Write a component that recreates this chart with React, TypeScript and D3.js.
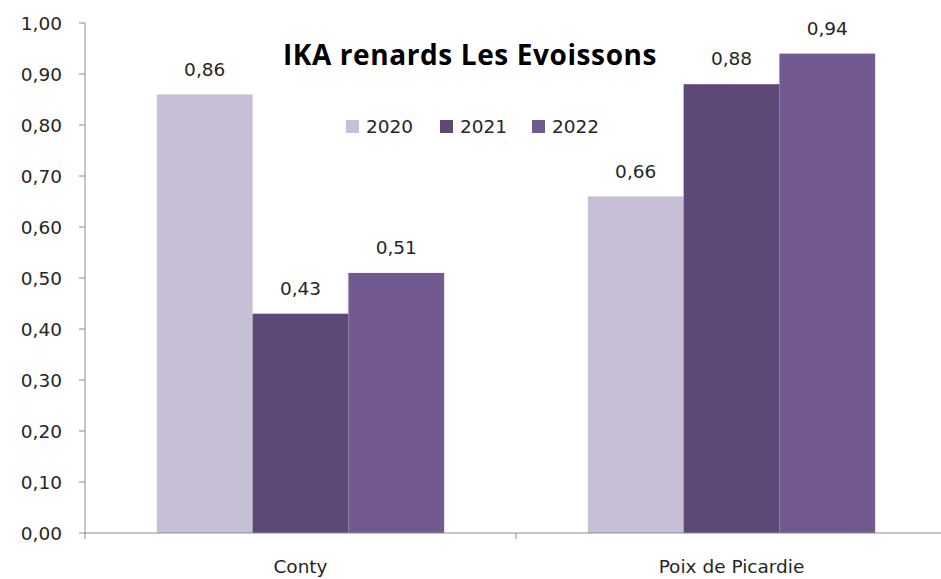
import React from "react";
import * as d3 from "d3";

const categories = ["Conty", "Poix de Picardie"];
const years = ["2020", "2021", "2022"];
const values2020 = [0.86, 0.66];
const values2021 = [0.43, 0.88];
const values2022 = [0.51, 0.94];
const yTicks = [0, 0.1, 0.2, 0.3, 0.4, 0.5, 0.6, 0.7, 0.8, 0.9, 1.0];
const colors = ["#C6BFD6", "#5E4878", "#72598F"];
const title = "IKA renards Les Evoissons";

const W = 941;
const H = 579;
const left = 85;
const right = 947;
const top = 23;
const bottom = 533;

export default function App() {
  const series = [values2020, values2021, values2022];
  const y = d3.scaleLinear().domain([0, 1]).range([bottom, top]);
  const x0 = d3.scaleBand<string>().domain(categories).range([left, right]).paddingInner(0).paddingOuter(0);
  const groupWidth = x0.bandwidth() * (3 / 4.5);
  const x1 = d3.scaleBand<string>().domain(years).range([0, groupWidth]).padding(0);
  const font = "'DejaVu Sans', sans-serif";
  const fs = 18.5;
  const fmt = (v: number) => v.toFixed(2).replace(".", ",");
  const legendX = [346, 440, 532];

  return (
    <svg width={W} height={H} style={{ position: "absolute", left: 0, top: 0, background: "#fff" }} fontFamily={font}>
      {/* y axis */}
      <line x1={left} x2={left} y1={top} y2={bottom} stroke="#8c8c8c" strokeWidth={1} />
      {yTicks.map((t) => (
        <g key={t}>
          <line x1={left - 6} x2={left} y1={y(t)} y2={y(t)} stroke="#8c8c8c" />
          <text x={62} y={y(t)} dy="0.36em" textAnchor="end" fontSize={fs} fill="#262626">
            {fmt(t)}
          </text>
        </g>
      ))}
      {/* bars */}
      {categories.map((c, ci) => {
        const gx = (x0(c) as number) + (x0.bandwidth() - groupWidth) / 2;
        return (
          <g key={c}>
            {years.map((yr, si) => {
              const v = series[si][ci];
              const bx = gx + (x1(yr) as number);
              return (
                <g key={yr}>
                  <rect x={bx} y={y(v)} width={x1.bandwidth()} height={bottom - y(v)} fill={colors[si]} />
                  <text x={bx + x1.bandwidth() / 2} y={y(v) - 25.5} dy="0.36em" textAnchor="middle" fontSize={fs} fill="#262626">
                    {fmt(v)}
                  </text>
                </g>
              );
            })}
          </g>
        );
      })}
      {/* x axis */}
      <line x1={left} x2={W} y1={bottom} y2={bottom} stroke="#8c8c8c" />
      {categories.map((c, i) => (
        <line key={"t" + i} x1={x0(c) as number} x2={x0(c) as number} y1={bottom} y2={bottom + 6} stroke="#8c8c8c" />
      ))}
      {categories.map((c) => (
        <text key={c} x={(x0(c) as number) + x0.bandwidth() / 2} y={566.5} dy="0.36em" textAnchor="middle" fontSize={fs} fill="#262626">
          {c}
        </text>
      ))}
      {/* title */}
      <text x={470} y={55} dy="0.36em" textAnchor="middle" fontSize={28} fontWeight="bold" fill="#000" fontFamily="'Open Sans', 'Noto Sans', sans-serif" letterSpacing={0.6}>
        {title}
      </text>
      {/* legend */}
      {years.map((yr, i) => (
        <g key={yr}>
          <rect x={legendX[i]} y={120} width={13} height={13} fill={colors[i]} />
          <text x={legendX[i] + 20} y={126.5} dy="0.36em" fontSize={fs} fill="#262626">
            {yr}
          </text>
        </g>
      ))}
    </svg>
  );
}
